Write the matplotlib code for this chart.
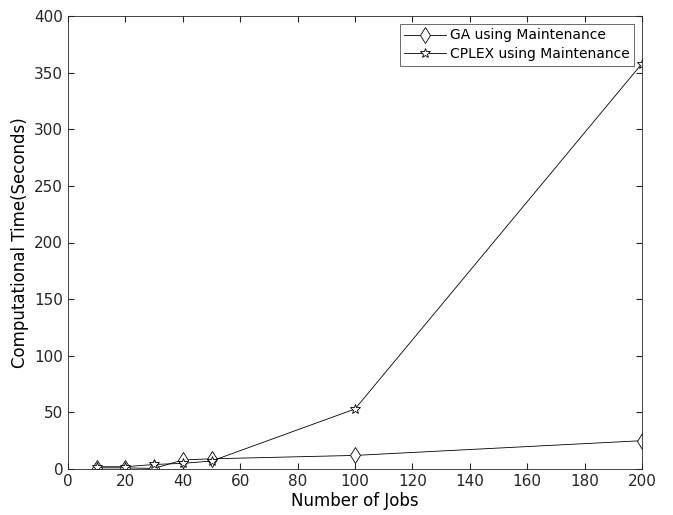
import matplotlib
matplotlib.use("Agg")
import matplotlib.pyplot as plt

jobs = [10, 20, 30, 40, 50, 100, 200]
ga_time = [1, 1, 0.5, 8, 9, 12, 25]
cplex_time = [2, 2, 4, 5, 7, 53, 358]
x_ticks = list(range(0, 201, 20))
y_ticks = list(range(0, 401, 50))

fig = plt.figure(figsize=(6.73, 5.15), dpi=100)
ax = fig.add_axes([68/673, 1-469/515, (642-68)/673, (469-16)/515])

ax.plot(jobs, ga_time, color='black', lw=0.6, marker='d', markersize=8,
        markerfacecolor='white', markeredgecolor='black', markeredgewidth=0.6,
        label='GA using Maintenance')
ax.plot(jobs, cplex_time, color='black', lw=0.6, marker='*', markersize=7,
        markerfacecolor='white', markeredgecolor='black', markeredgewidth=0.6,
        label='CPLEX using Maintenance')

ax.set_xlim(0, 200)
ax.set_ylim(0, 400)
ax.set_xticks(x_ticks)
ax.set_yticks(y_ticks)
ax.tick_params(direction='in', length=4, labelsize=11, colors='#262626', top=True, right=True, labeltop=False, labelright=False)
for s in ax.spines.values():
    s.set_color('#262626')
    s.set_linewidth(0.6)
ax.set_xlabel('Number of Jobs', fontsize=12, labelpad=2)
ax.set_ylabel('Computational Time(Seconds)', fontsize=12, labelpad=4)

leg = ax.legend(loc='upper right', fontsize=10, frameon=True, fancybox=False,
                edgecolor='#262626', borderpad=0.3, handlelength=3.0,
                handletextpad=0.3, labelspacing=0.35, borderaxespad=0.6)
leg.get_frame().set_linewidth(0.6)

fig.savefig('out.png', dpi=100)
